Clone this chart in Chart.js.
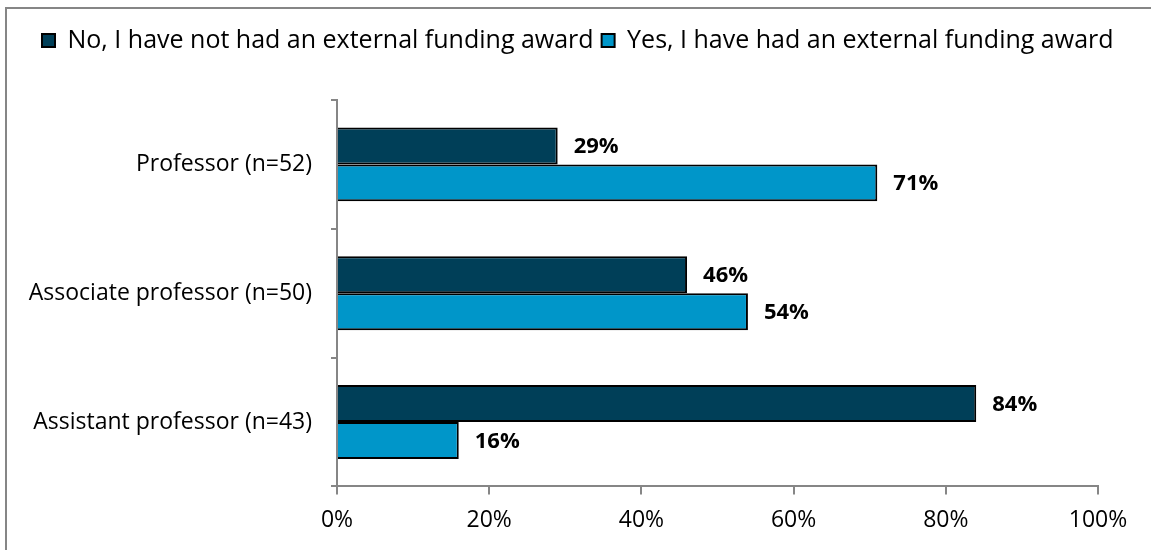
<!DOCTYPE html>
<html>
<head>
<meta charset="utf-8">
<script src="https://cdn.jsdelivr.net/npm/chart.js@4.4.0/dist/chart.umd.min.js"></script>
<style>
  html, body { margin: 0; padding: 0; background: #fff; overflow: hidden; }
  #wrap { position: relative; width: 1151px; height: 550px; }
  #frame {
    position: absolute; left: 5px; top: 7px; width: 1200px; height: 600px;
    border-left: 2px solid #868686; border-top: 2px solid #868686;
  }
  canvas { position: absolute; left: 0; top: 0; }
</style>
</head>
<body>
<div id="wrap">
  <div id="frame"></div>
  <canvas id="fundingChart" width="1151" height="550"></canvas>
</div>
<script>
var categories = [
    'Professor (n=52)',
    'Associate professor (n=50)',
    'Assistant professor (n=43)',
];
var noAward = [29, 46, 84];
var yesAward = [71, 54, 16];
var xTicks = [0, 20, 40, 60, 80, 100];

var FONT = '"Open Sans", sans-serif';

// percent labels drawn just past the end of each bar
var barLabels = {
    id: 'barLabels',
    afterDatasetsDraw: function (chart) {
        var ctx = chart.ctx;
        ctx.save();
        ctx.font = 'bold 22px ' + FONT;
        ctx.fillStyle = '#000';
        ctx.textAlign = 'left';
        ctx.textBaseline = 'middle';
        chart.data.datasets.forEach(function (ds, i) {
            chart.getDatasetMeta(i).data.forEach(function (bar, j) {
                ctx.fillText(ds.data[j] + '%', bar.x + 16, bar.y + 1);
            });
        });
        ctx.restore();
    }
};

// keep the legend on one row across the full width, with room below it
var legendGap = {
    id: 'legendGap',
    beforeInit: function (chart) {
        var fit = chart.legend.fit;
        chart.legend.fit = function () {
            this.maxWidth = chart.width;
            fit.call(this);
            this.height += 37;
        };
    },
    afterLayout: function (chart) {
        chart.legend.left = 34;
        chart.legend.right = chart.width;
    }
};

var el = document.getElementById('fundingChart').getContext('2d');
var fundingChart = new Chart(el, {
    type: 'bar',
    data: {
        labels: categories,
        datasets: [{
                label: 'No, I have not had an external funding award',
                data: noAward,
                backgroundColor: '#003F58',
                borderColor: '#000',
                borderWidth: 2,
                borderSkipped: 'left',
                categoryPercentage: 0.574,
                barPercentage: 1
            },
            {
                label: 'Yes, I have had an external funding award',
                data: yesAward,
                backgroundColor: '#0096C9',
                borderColor: '#000',
                borderWidth: 2,
                borderSkipped: 'left',
                categoryPercentage: 0.574,
                barPercentage: 1
            }
        ]
    },
    options: {
        indexAxis: 'y',
        responsive: false,
        animation: false,
        layout: { padding: { left: 10, right: 53, top: 20, bottom: 4 } },
        plugins: {
            tooltip: { enabled: false },
            legend: {
                position: 'top',
                align: 'start',
                labels: {
                    color: '#000',
                    font: { family: FONT, size: 25 },
                    boxWidth: 13,
                    boxHeight: 13,
                    padding: 8,
                    generateLabels: function (chart) {
                        return chart.data.datasets.map(function (ds, i) {
                            return {
                                text: ds.label,
                                fillStyle: ds.backgroundColor,
                                strokeStyle: '#000',
                                lineWidth: 2,
                                fontColor: '#000',
                                datasetIndex: i
                            };
                        });
                    }
                }
            }
        },
        scales: {
            x: {
                min: 0,
                max: 100,
                afterBuildTicks: function (scale) {
                    scale.ticks = xTicks.map(function (v) { return { value: v }; });
                },
                ticks: {
                    color: '#000',
                    font: { family: FONT, size: 23 },
                    padding: 12,
                    callback: function (v) { return v + '%'; }
                },
                grid: {
                    drawOnChartArea: false,
                    drawTicks: true,
                    tickLength: 8,
                    color: '#868686',
                    lineWidth: 2
                },
                border: { color: '#868686', width: 2 }
            },
            y: {
                afterFit: function (scale) { scale.width = 327; },
                ticks: {
                    color: '#000',
                    font: { family: FONT, size: 23 },
                    padding: 19
                },
                grid: {
                    offset: true,
                    drawOnChartArea: false,
                    drawTicks: true,
                    tickLength: 6,
                    color: '#868686',
                    lineWidth: 2
                },
                border: { color: '#868686', width: 2 }
            }
        }
    },
    plugins: [barLabels, legendGap]
});
</script>
</body>
</html>
